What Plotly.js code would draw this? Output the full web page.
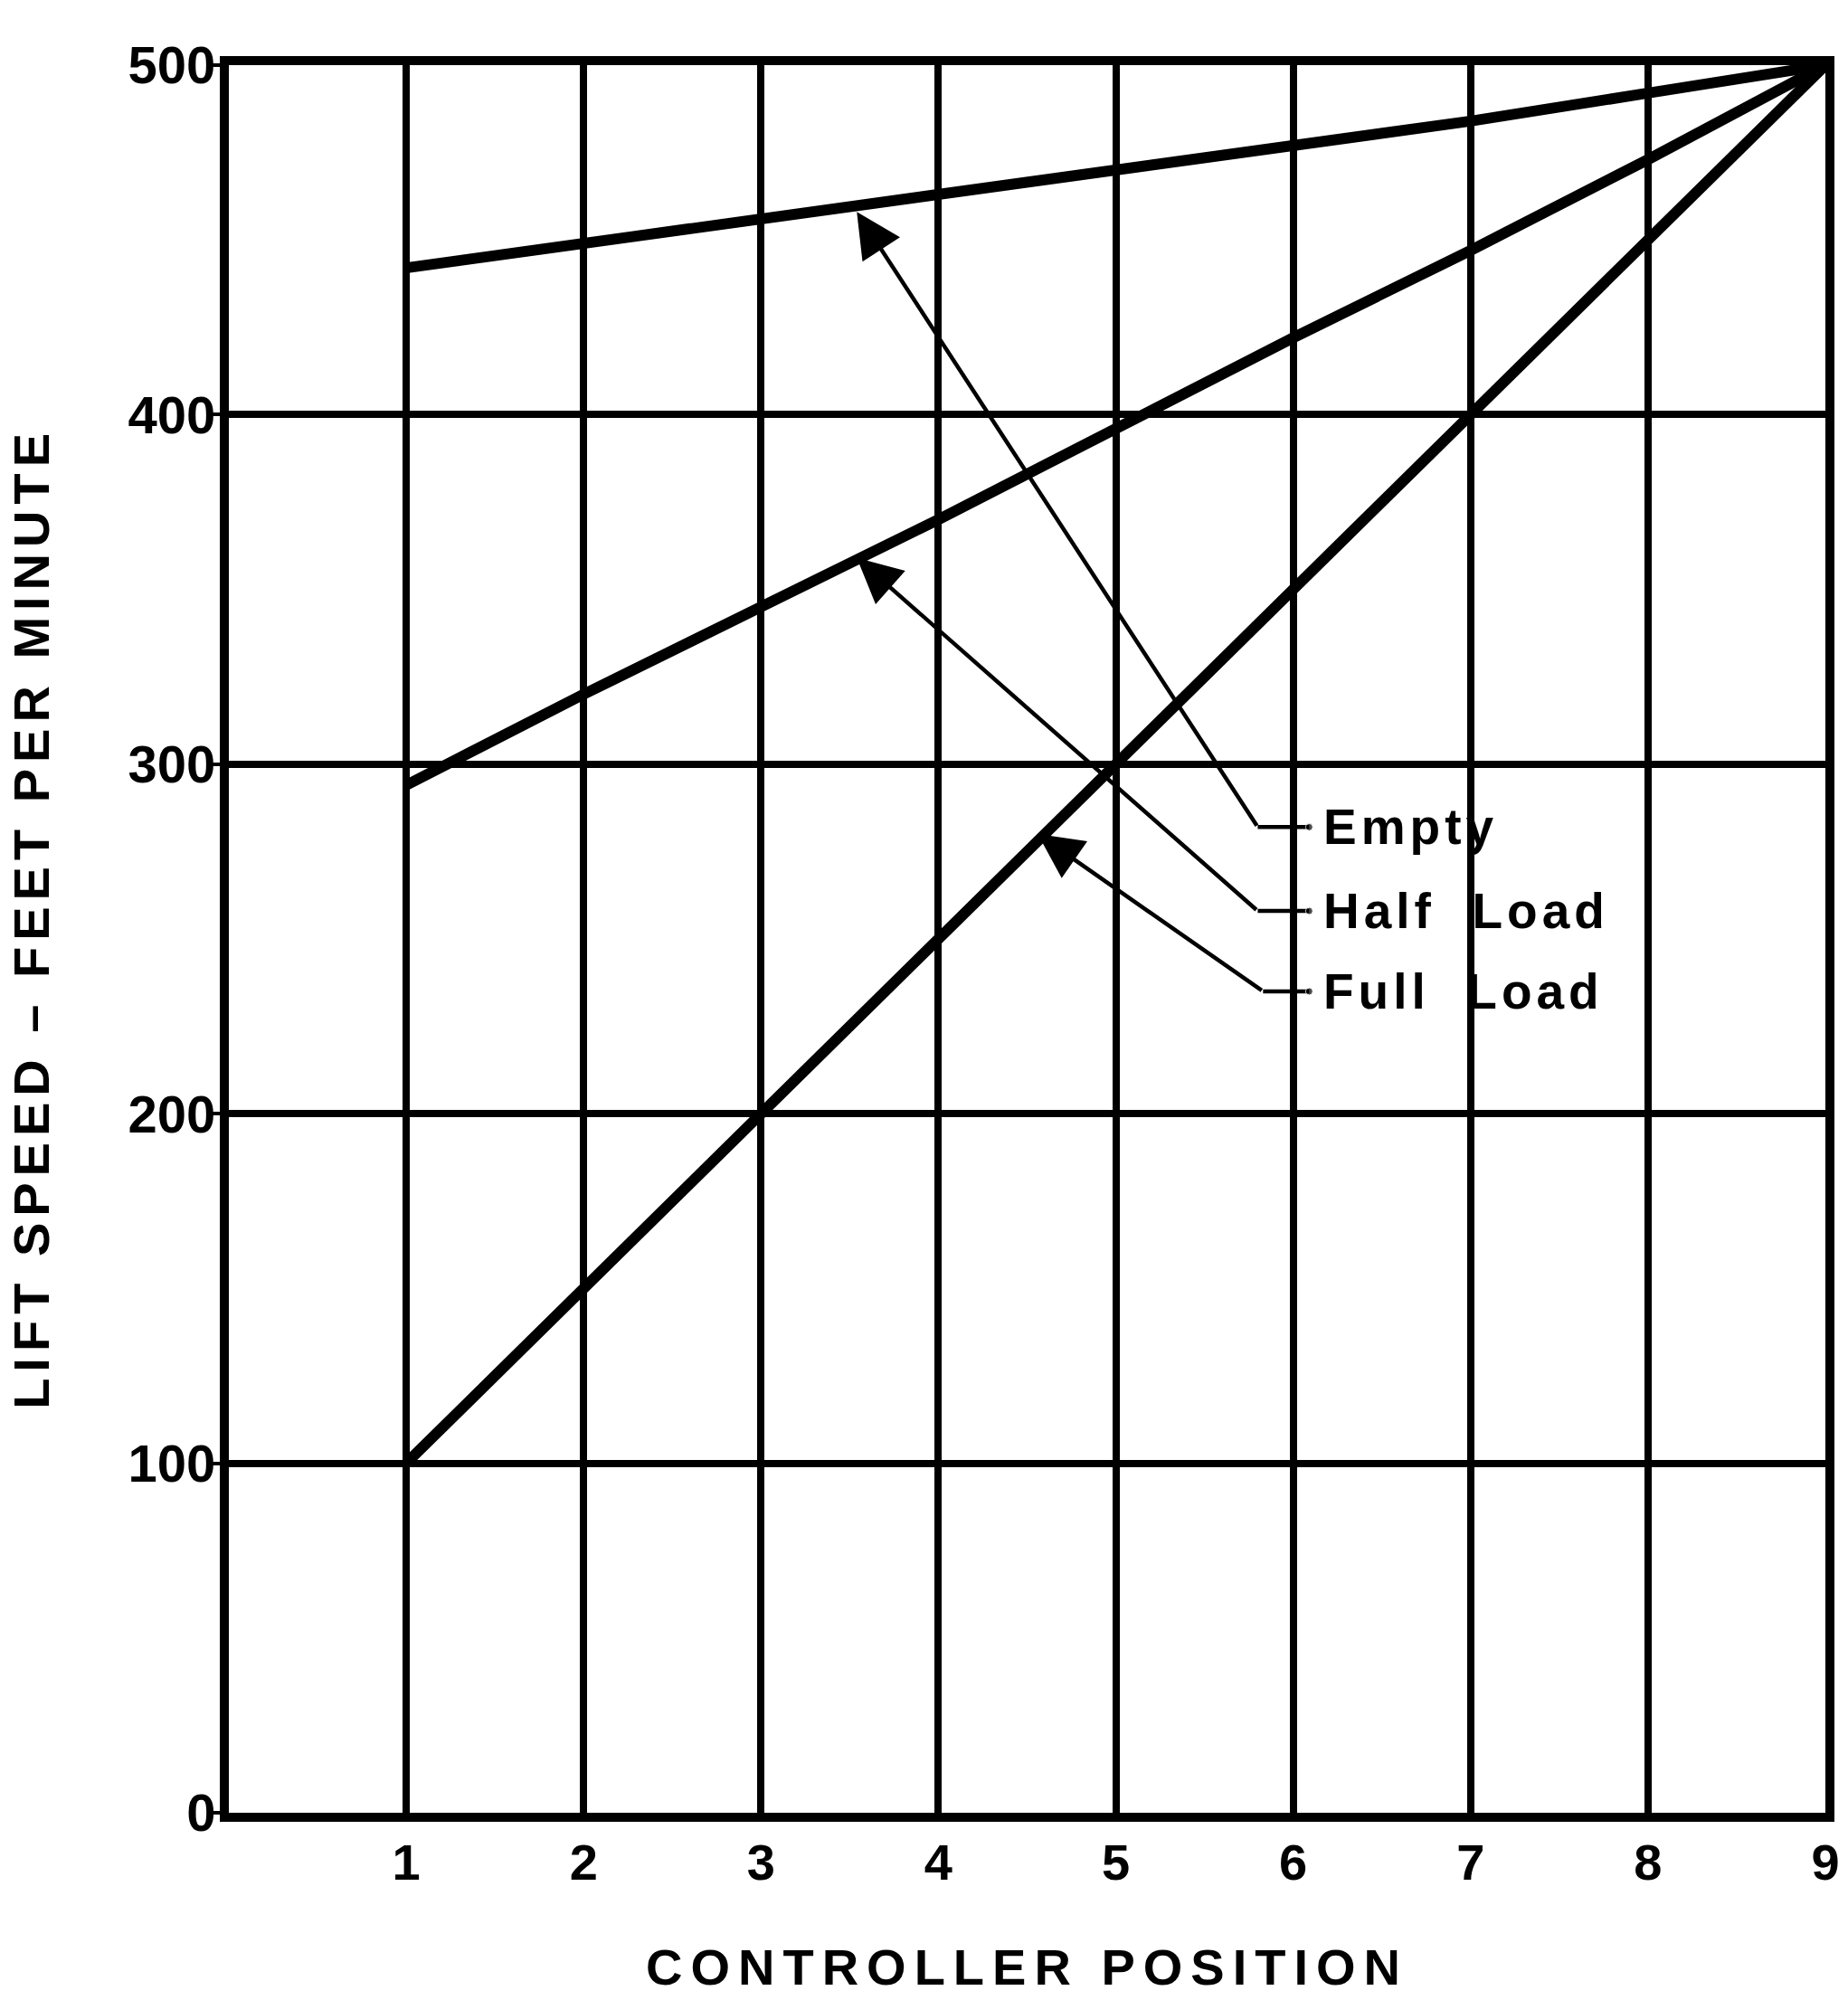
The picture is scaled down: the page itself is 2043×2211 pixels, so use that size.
<!DOCTYPE html>
<html>
<head>
<meta charset="utf-8">
<script src="https://cdn.plot.ly/plotly-3.0.1.min.js"></script>
<style>
    html, body { margin: 0; padding: 0; background: white; }
    #chart { width: 2043px; height: 2211px; }
    .xtitle { letter-spacing: 9px; }
    .annotation-text { letter-spacing: 5px; }
    .annotation.speed-title .annotation-text { letter-spacing: 7px; }
</style>
</head>
<body>
<div id="chart"></div>
<script>
// controller positions and lift speeds (feet per minute)
var positions = [1, 2, 3, 4, 5, 6, 7, 8, 9];
var emptySpeed = [442, 449, 456, 463, 470, 477, 484, 492, 500];
var halfLoadSpeed = [294, 320, 345, 370, 396, 422, 447, 473, 500];
var fullLoadSpeed = [100, 150, 200, 250, 300, 350, 400, 450, 500];

var speedTicks = [0, 100, 200, 300, 400, 500];

// call-out labels: arrow tip on the curve, elbow, end of the short horizontal stub
var labelNames = ['Empty', 'Half\u00a0\u00a0Load', 'Full\u00a0\u00a0Load'];
var labelTipX = [3.54, 3.54, 4.56];
var labelTipY = [458, 359, 280];
var labelElbowX = [5.80, 5.80, 5.83];
var labelElbowY = [282, 258, 235];
var labelStubEndX = [6.09, 6.09, 6.09];
var labelTextX = [6.16, 6.16, 6.16];

var FONT = '"Liberation Sans", Arial, sans-serif';

var lineStyle = {color: 'black', width: 12};

var traces = [
    {x: positions, y: emptySpeed, name: 'Empty', mode: 'lines', line: lineStyle},
    {x: positions, y: halfLoadSpeed, name: 'Half Load', mode: 'lines', line: lineStyle},
    {x: positions, y: fullLoadSpeed, name: 'Full Load', mode: 'lines', line: lineStyle}
];

var annotations = [];
for (var i = 0; i < labelNames.length; i++) {
    // horizontal stub from the elbow to the label, with a small dot at its end
    traces.push({
        x: [labelElbowX[i], labelStubEndX[i]],
        y: [labelElbowY[i], labelElbowY[i]],
        mode: 'lines+markers',
        line: {color: 'black', width: 4.5},
        marker: {color: 'black', size: [0, 8]},
        hoverinfo: 'skip'
    });
    // leader line with arrowhead pointing at the curve
    annotations.push({
        x: labelTipX[i], y: labelTipY[i],
        ax: labelElbowX[i], ay: labelElbowY[i],
        xref: 'x', yref: 'y', axref: 'x', ayref: 'y',
        text: '',
        showarrow: true,
        arrowhead: 2,
        arrowsize: 2.2,
        arrowwidth: 4.5,
        arrowcolor: 'black',
        standoff: 0
    });
    annotations.push({
        x: labelTextX[i], y: labelElbowY[i],
        xref: 'x', yref: 'y',
        text: labelNames[i],
        showarrow: false,
        xanchor: 'left',
        yanchor: 'middle',
        font: {family: FONT, size: 55, color: 'black', weight: 700}
    });
}

// vertical axis title as a rotated annotation so it can sit a bit above centre
annotations.push({
    x: -0.1235, y: 0.512,
    xref: 'paper', yref: 'paper',
    text: 'LIFT SPEED \u2013 FEET PER MINUTE',
    textangle: -90,
    showarrow: false,
    xanchor: 'center',
    yanchor: 'middle',
    font: {family: FONT, size: 56, color: 'black', weight: 700}
});

var layout = {
    width: 2043,
    height: 2211,
    paper_bgcolor: 'white',
    plot_bgcolor: 'white',
    showlegend: false,
    margin: {l: 253, r: 25, t: 72, b: 207, pad: 0},
    font: {family: FONT, color: 'black'},
    xaxis: {
        range: [0, 9],
        tickvals: positions,
        ticktext: positions.map(String),
        ticks: '',
        showgrid: true,
        gridcolor: 'black',
        gridwidth: 8,
        zeroline: false,
        showline: true,
        linecolor: 'black',
        linewidth: 10,
        mirror: true,
        tickfont: {family: FONT, size: 56, color: 'black', weight: 700},
        ticklabelstandoff: -3,
        fixedrange: true,
        title: {
            text: 'CONTROLLER POSITION',
            font: {family: FONT, size: 56, color: 'black', weight: 700},
            standoff: 70
        }
    },
    yaxis: {
        range: [0, 500],
        tickvals: speedTicks,
        ticks: 'outside',
        ticklen: 8,
        tickwidth: 4,
        tickcolor: 'black',
        showgrid: true,
        gridcolor: 'black',
        gridwidth: 8,
        zeroline: false,
        showline: true,
        linecolor: 'black',
        linewidth: 10,
        mirror: true,
        tickfont: {family: FONT, size: 58, color: 'black', weight: 700},
        ticklabelstandoff: -15,
        fixedrange: true
    },
    annotations: annotations
};

Plotly.newPlot('chart', traces, layout, {displayModeBar: false, staticPlot: true}).then(function (gd) {
    // wider letter spacing for the rotated title only
    var groups = gd.querySelectorAll('.annotation');
    groups[groups.length - 1].classList.add('speed-title');
});
</script>
</body>
</html>
